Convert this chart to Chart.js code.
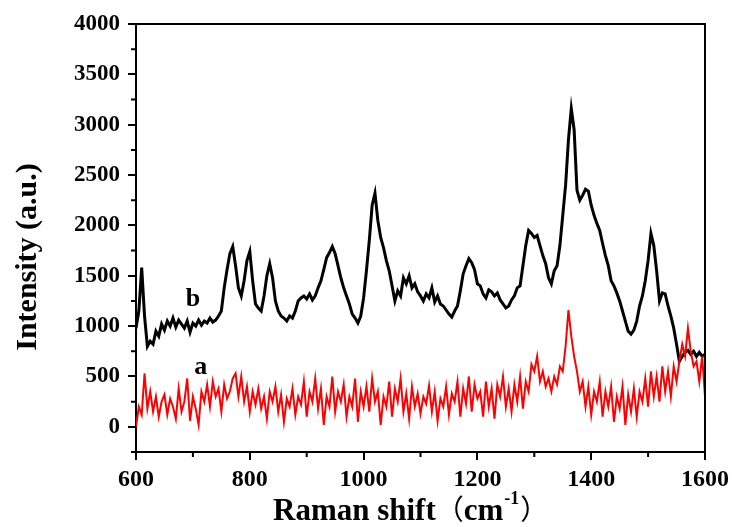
<!DOCTYPE html>
<html>
<head>
<meta charset="utf-8">
<script src="https://cdn.jsdelivr.net/npm/chart.js@4.4.0/dist/chart.umd.min.js"></script>
<style>
    html, body { margin: 0; padding: 0; background: #fff; }
    #wrap { width: 734px; height: 527px; }
</style>
</head>
<body>
<div id="wrap"><canvas id="chart" width="734" height="527"></canvas></div>
<script>
// Raman shift grid: 600 to 1600 cm-1, one reading every 5 cm-1
const shiftStart = 600;
const shiftStep = 5;

// curve a (red)
const curveA = [
    0, 200, 120, 530, 180, 350, 150, 300, 100, 250,
    320, 120, 280, 200, 80, 380, 150, 250, 480, 60,
    300, 180, 20, 350, 250, 420, 200, 450, 300, 380,
    150, 420, 280, 350, 480, 530, 300, 500, 250, 400,
    150, 350, 220, 380, 180, 300, 80, 350, 250, 400,
    150, 320, 50, 280, 200, 380, 120, 300, 220, 450,
    100, 350, 250, 480, 180, 380, 20, 300, 200, 500,
    150, 350, 250, 420, 100, 300, 200, 480, 50, 350,
    200, 400, 150, 480, 250, 350, 20, 300, 200, 450,
    100, 380, 250, 480, 150, 330, 80, 400, 200, 330,
    130, 300, 230, 410, 150, 350, 60, 280, 200, 400,
    120, 330, 250, 450, 100, 380, 230, 500, 150, 420,
    280, 350, 100, 450, 200, 380, 80, 420, 300, 500,
    200, 380, 150, 420, 250, 500, 180, 450, 350, 620,
    550, 700, 450, 550, 400, 480, 350, 500, 420, 600,
    550, 800, 1160, 900, 700, 550, 350, 450, 200, 400,
    120, 350, 250, 450, 100, 350, 200, 400, 50, 300,
    180, 400, 20, 320, 150, 380, 100, 350, 250, 480,
    200, 550, 300, 500, 250, 600, 350, 550, 300, 600,
    450, 650, 820, 700, 980, 750, 600, 650, 450, 700,
    300
];

// curve b (black)
const curveB = [
    980, 1150, 1580, 1100, 800, 850, 820, 950, 900, 1020,
    960, 1050, 1000, 1080, 990, 1060, 1020, 980, 1050, 940,
    1030, 1000, 1060, 1010, 1050, 1030, 1080, 1040, 1060, 1100,
    1150, 1380, 1560, 1720, 1790, 1600, 1380, 1300, 1450, 1650,
    1740, 1450, 1220, 1180, 1150, 1300, 1500, 1620, 1480, 1250,
    1150, 1100, 1080, 1050, 1100, 1080, 1150, 1250, 1280, 1300,
    1270, 1320, 1260, 1300, 1380, 1450, 1560, 1680, 1730, 1790,
    1720, 1600, 1480, 1380, 1300, 1220, 1120, 1080, 1030, 1100,
    1280, 1550, 1850, 2200, 2320, 2050, 1880, 1780, 1650, 1550,
    1400, 1250, 1350, 1300, 1480, 1420, 1500, 1380, 1420, 1340,
    1300, 1250, 1320, 1280, 1380, 1240, 1300, 1220, 1200, 1160,
    1120, 1090, 1150, 1200, 1350, 1520, 1600, 1670, 1630, 1560,
    1420, 1400, 1320, 1280, 1360, 1340, 1300, 1330, 1260, 1220,
    1180, 1200, 1260, 1300, 1380, 1400, 1600, 1800, 1950, 1920,
    1880, 1900, 1800, 1700, 1620, 1480, 1420, 1550, 1600, 1800,
    2100, 2400, 2850, 3160, 2950, 2350, 2250, 2300, 2360, 2340,
    2200, 2100, 2020, 1950, 1820, 1700, 1600, 1450, 1400, 1330,
    1250, 1150, 1050, 950, 920, 960, 1050, 1200, 1300, 1450,
    1650, 1920, 1800, 1550, 1250, 1330, 1320, 1200, 1100, 980,
    820, 650, 700, 740, 760, 720, 750, 700, 740, 700,
    720
];

const xMajor = [600, 800, 1000, 1200, 1400, 1600];
const xMinor = [700, 900, 1100, 1300, 1500];
const yMajor = [0, 500, 1000, 1500, 2000, 2500, 3000, 3500, 4000];
const yMinor = [-250, 250, 750, 1250, 1750, 2250, 2750, 3250, 3750];

// curve names placed next to the traces (data coordinates)
const curveNames = ['a', 'b'];
const curveNameX = [714, 700];
const curveNameY = [590, 1270];

const serif = "'Liberation Serif', 'Times New Roman', serif";

function toPoints(values) {
    return values.map((v, i) => ({ x: shiftStart + i * shiftStep, y: v }));
}

// frame, minor ticks and the texts that Chart.js can't lay out the same way
const decorations = {
    id: 'decorations',
    afterDraw(chart) {
        const { ctx, chartArea: area, scales } = chart;
        const x = scales.x, y = scales.y;
        ctx.save();
        ctx.strokeStyle = '#000';
        ctx.lineWidth = 2;
        ctx.beginPath();
        ctx.moveTo(area.left, area.top);
        ctx.lineTo(area.right, area.top);
        ctx.lineTo(area.right, area.bottom);
        ctx.stroke();

        ctx.beginPath();
        xMinor.forEach(v => {
            const px = x.getPixelForValue(v);
            ctx.moveTo(px, area.bottom);
            ctx.lineTo(px, area.bottom + 5);
        });
        yMinor.forEach(v => {
            const py = y.getPixelForValue(v);
            ctx.moveTo(area.left, py);
            ctx.lineTo(area.left - 5, py);
        });
        ctx.stroke();

        ctx.fillStyle = '#000';
        ctx.textBaseline = 'middle';
        ctx.textAlign = 'center';
        ctx.font = 'bold 26px ' + serif;
        curveNames.forEach((name, i) => {
            ctx.fillText(name, x.getPixelForValue(curveNameX[i]), y.getPixelForValue(curveNameY[i]));
        });

        // y title
        ctx.save();
        ctx.translate(28, 257);
        ctx.rotate(-Math.PI / 2);
        ctx.font = 'bold 30px ' + serif;
        ctx.fillText('Intensity (a.u.)', 0, 0);
        ctx.restore();

        // x title with superscript
        ctx.textAlign = 'left';
        ctx.textBaseline = 'alphabetic';
        const base = 520;
        let cx = 273;
        ctx.font = 'bold 31px ' + serif;
        ctx.fillText('Raman shift', cx, base);
        cx += ctx.measureText('Raman shift').width;
        ctx.font = '28px "Noto Sans CJK SC"';
        ctx.fillText('（', cx, base);
        cx += ctx.measureText('（').width;
        ctx.font = 'bold 31px ' + serif;
        ctx.fillText('cm', cx, base);
        cx += ctx.measureText('cm').width;
        ctx.font = 'bold 18px ' + serif;
        ctx.fillText('-1', cx + 1, base - 16);
        cx += ctx.measureText('-1').width + 2;
        ctx.font = '28px "Noto Sans CJK SC"';
        ctx.fillText('）', cx, base);
        ctx.restore();
    }
};

const ctx = document.getElementById('chart').getContext('2d');
const chart = new Chart(ctx, {
    type: 'line',
    data: {
        datasets: [
            {
                label: 'a',
                data: toPoints(curveA),
                borderColor: '#ff0000',
                borderWidth: 2,
                pointRadius: 0,
                tension: 0
            },
            {
                label: 'b',
                data: toPoints(curveB),
                borderColor: '#000000',
                borderWidth: 3,
                pointRadius: 0,
                tension: 0
            }
        ]
    },
    options: {
        responsive: false,
        animation: false,
        events: [],
        layout: { padding: { top: 24, right: 28, left: 0, bottom: 0 } },
        plugins: {
            legend: { display: false },
            tooltip: { enabled: false }
        },
        scales: {
            x: {
                type: 'linear',
                min: 600,
                max: 1600,
                afterBuildTicks: scale => { scale.ticks = xMajor.map(v => ({ value: v })); },
                afterFit: scale => { scale.height = 75; },
                grid: { drawOnChartArea: false, tickLength: 8, color: '#000', lineWidth: 2 },
                border: { color: '#000', width: 2 },
                ticks: {
                    color: '#000',
                    padding: 5,
                    maxRotation: 0,
                    callback: v => String(v),
                    font: { family: serif, size: 24, weight: 'bold' }
                }
            },
            y: {
                min: -250,
                max: 4000,
                afterBuildTicks: scale => { scale.ticks = yMajor.map(v => ({ value: v })); },
                afterFit: scale => { scale.width = 136; },
                grid: { drawOnChartArea: false, tickLength: 8, color: '#000', lineWidth: 2 },
                border: { color: '#000', width: 2 },
                ticks: {
                    color: '#000',
                    padding: 8,
                    callback: v => String(v),
                    font: { family: serif, size: 23, weight: 'bold' }
                }
            }
        }
    },
    plugins: [decorations]
});
</script>
</body>
</html>
